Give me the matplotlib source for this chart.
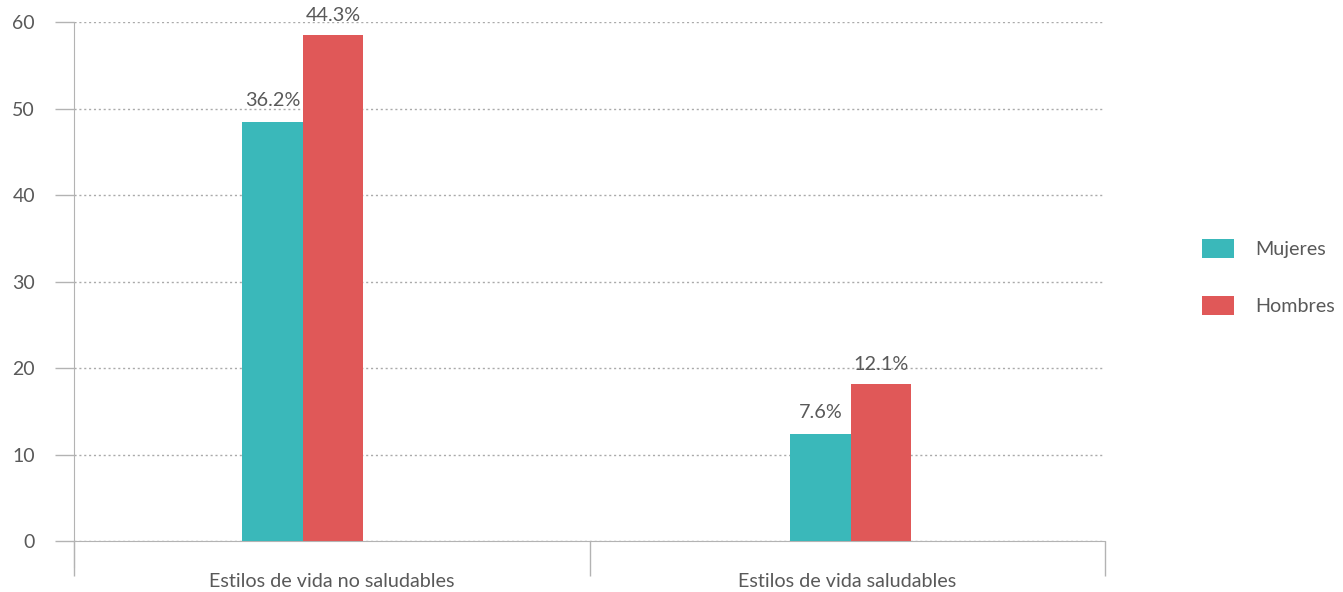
import matplotlib.pyplot as plt
from matplotlib.patches import Patch

plt.rcParams['font.family'] = ['Lato', 'DejaVu Sans']

categories = ['Estilos de vida no saludables', 'Estilos de vida saludables']
series_names = ['Mujeres', 'Hombres']
mujeres = [48.4, 12.4]
hombres = [58.5, 18.1]
mujeres_labels = ['36.2%', '7.6%']
hombres_labels = ['44.3%', '12.1%']

TEAL = '#3ab8ba'
RED = '#e05858'
TEXT = '#595959'
AXIS = '#b3b3b3'

fig = plt.figure(figsize=(13.43, 5.92), dpi=100)
ax = fig.add_axes([0.0551, 0.0861, 0.7677, 0.8767])

# group centres within each category slot (slots span [0,1] and [1,2])
centres = [0.444, 1.507]
w = 0.1175

for i in range(len(categories)):
    c = centres[i]
    ax.bar(c - w / 2, mujeres[i], width=w, color=TEAL, zorder=3)
    ax.bar(c + w / 2, hombres[i], width=w, color=RED, zorder=3)
    ax.text(c - w / 2, mujeres[i] + 1.5, mujeres_labels[i], ha='center', va='bottom',
            fontsize=14.3, color=TEXT)
    ax.text(c + w / 2, hombres[i] + 1.3, hombres_labels[i], ha='center', va='bottom',
            fontsize=14.3, color=TEXT)

ax.set_xlim(0, 2)
ax.set_ylim(0, 60)
ax.set_yticks(range(0, 61, 10))
ax.yaxis.grid(True, linestyle=(0, (1.5, 2)), color='#aaaaaa', linewidth=1, zorder=0)

ax.set_xticks([0, 1, 2])
ax.set_xticklabels([])
ax.set_xticks([0.5, 1.5], minor=True)
ax.set_xticklabels(categories, minor=True)
ax.tick_params(axis='x', which='major', length=25, color=AXIS, width=1)
ax.tick_params(axis='x', which='minor', length=0, pad=23, labelsize=14.2, labelcolor=TEXT)
ax.tick_params(axis='y', length=14, color=AXIS, width=1, labelsize=14, labelcolor=TEXT, pad=14)

for s in ['top', 'right']:
    ax.spines[s].set_visible(False)
ax.spines['left'].set_color(AXIS)
ax.spines['bottom'].set_color(AXIS)
ax.spines['left'].set_bounds(-3, 60)

handles = [Patch(facecolor=TEAL), Patch(facecolor=RED)]
leg = fig.legend(handles, series_names, loc='center left', bbox_to_anchor=(0.882, 0.532),
                 frameon=False, fontsize=14.2, handlelength=1.63, handleheight=1.1,
                 handletextpad=1.05, labelspacing=1.95, labelcolor=TEXT)

fig.savefig('out.png', dpi=100)
